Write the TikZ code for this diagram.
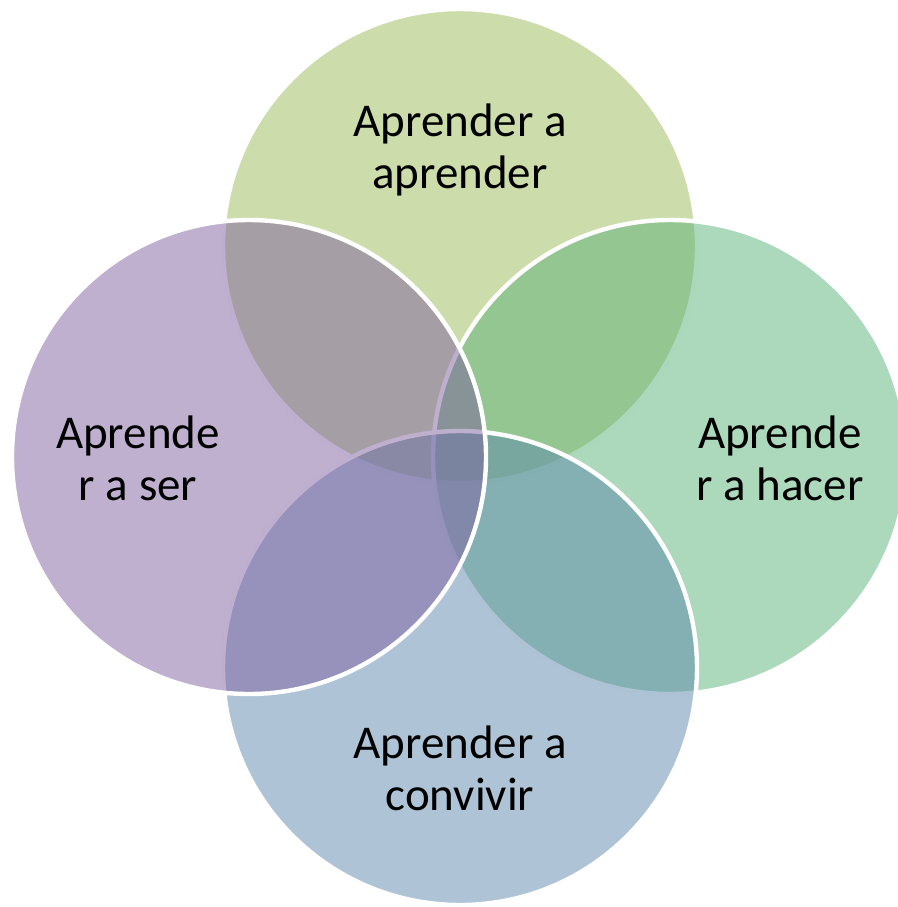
\documentclass[tikz,border=0pt]{standalone}
\usepackage{fontspec}
\setmainfont{Carlito}
\definecolor{VOlive}{RGB}{155,185,87}
\definecolor{VGreen}{RGB}{89,177,119}
\definecolor{VBlue}{RGB}{93,137,173}
\definecolor{VPurple}{RGB}{127,97,161}
\begin{document}
\begin{tikzpicture}[x=0.5pt,y=-0.5pt,
    lbl/.style={align=center, inner sep=0pt, text=black, font=\fontsize{23.5}{26}\selectfont}]
        \useasboundingbox (0,0) rectangle (898,907);
        \foreach \cx/\cy/\col in {460/246/VOlive,670/457/VGreen,460/668/VBlue,249/457/VPurple}
            {
                \draw[white, line width=2.2pt, fill=\col, fill opacity=.5] (\cx,\cy) circle (118.5pt);
            }
        \node[lbl] (aprender) at (460,150) {Aprender a\\aprender};
        \node[lbl] (hacer) at (780,458) {Aprende\\r a hacer};
        \node[lbl] (convivir) at (460,768) {Aprender a\\convivir};
        \node[lbl] (ser) at (138,458) {Aprende\\r a ser};
        \end{tikzpicture}
\end{document}
